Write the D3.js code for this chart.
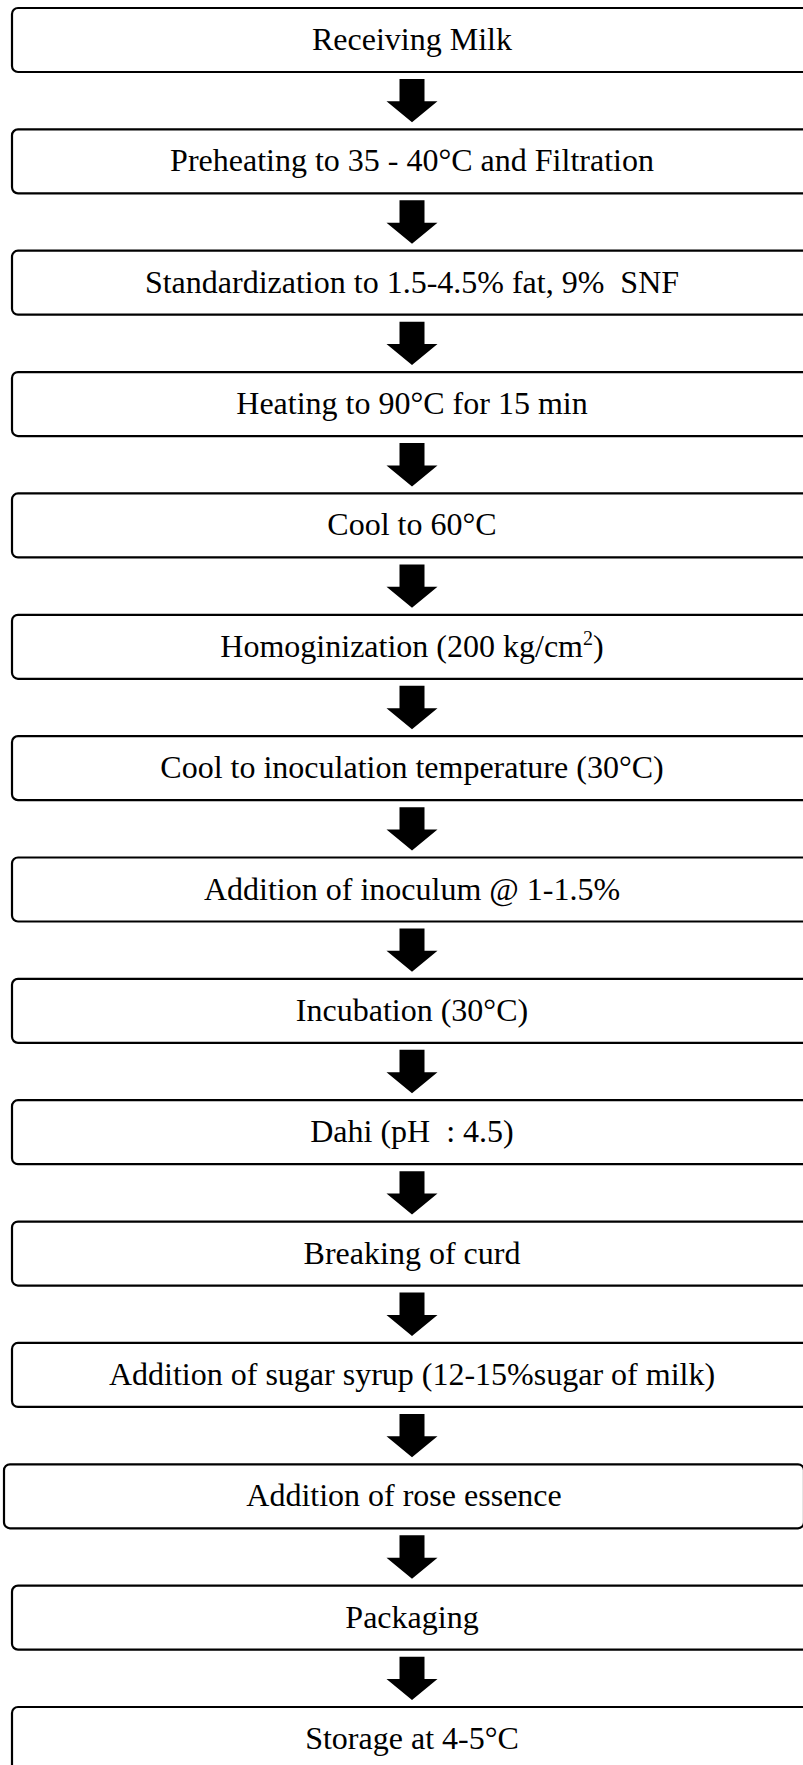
<!DOCTYPE html>
<html>
<head>
<meta charset="utf-8">
<script src="https://cdn.jsdelivr.net/npm/d3@7"></script>
<style>
  body { margin: 0; background: #fff; }
</style>
</head>
<body>
<div id="app"></div>
<script>
const steps = [
    "Receiving Milk",
    "Preheating to 35 - 40°C and Filtration",
    "Standardization to 1.5-4.5% fat, 9%  SNF",
    "Heating to 90°C for 15 min",
    "Cool to 60°C",
    "Homoginization (200 kg/cm^2)",
    "Cool to inoculation temperature (30°C)",
    "Addition of inoculum @ 1-1.5%",
    "Incubation (30°C)",
    "Dahi (pH  : 4.5)",
    "Breaking of curd",
    "Addition of sugar syrup (12-15%sugar of milk)",
    "Addition of rose essence",
    "Packaging",
    "Storage at 4-5°C"
]

const w = 803;
const h = 1765;
const boxH = 64;
const boxLeft = 12;
const boxW = 800;
const cx = boxLeft + boxW / 2;

const svg = d3.select("#app")
    .append("svg")
    .attr("width", w)
    .attr("height", h)
    .style("display", "block")

// top of each box, step index -> y
const yScale = d3.scaleLinear()
    .domain([0, steps.length - 1])
    .range([8, 1707]);

// box 13 sits a little further left in the original
const shiftX = i => (i === 12 ? -8 : 0);

const g = svg.selectAll(".step")
    .data(steps)
    .enter()
    .append("g")
    .attr("class", "step")
    .attr("transform", (d, i) => `translate(${shiftX(i)},${yScale(i)})`)

g.append("rect")
    .attr("x", boxLeft)
    .attr("y", 0)
    .attr("width", boxW)
    .attr("height", boxH)
    .attr("rx", 6)
    .attr("fill", "#fff")
    .attr("stroke", "#000")
    .attr("stroke-width", 2.2)

const label = g.append("text")
    .attr("x", cx)
    .attr("y", 42)
    .attr("text-anchor", "middle")
    .style("font-family", "'Liberation Serif', 'Times New Roman', serif")
    .style("font-size", "32px")
    .style("white-space", "pre")
    .attr("fill", "#000")

label.each(function (d) {
    const t = d3.select(this);
    const parts = d.split("^");
    t.append("tspan").text(parts[0]);
    if (parts.length > 1) {
        t.append("tspan")
            .attr("dy", -12)
            .style("font-size", "20px")
            .text(parts[1].charAt(0));
        t.append("tspan")
            .attr("dy", 12)
            .text(parts[1].slice(1));
    }
});

// arrows between the boxes
const arrows = d3.range(steps.length - 1);
const shaftW = 25, headW = 51;

svg.selectAll(".arrow")
    .data(arrows)
    .enter()
    .append("path")
    .attr("class", "arrow")
    .attr("fill", "#000")
    .attr("d", i => {
        const top = yScale(i) + boxH + 7;
        const tip = yScale(i + 1) - 7;
        const base = tip - 21;
        return `M${cx - shaftW / 2},${top} L${cx + shaftW / 2},${top} L${cx + shaftW / 2},${base}` +
            ` L${cx + headW / 2},${base} L${cx},${tip} L${cx - headW / 2},${base}` +
            ` L${cx - shaftW / 2},${base} Z`;
    })
</script>
</body>
</html>
